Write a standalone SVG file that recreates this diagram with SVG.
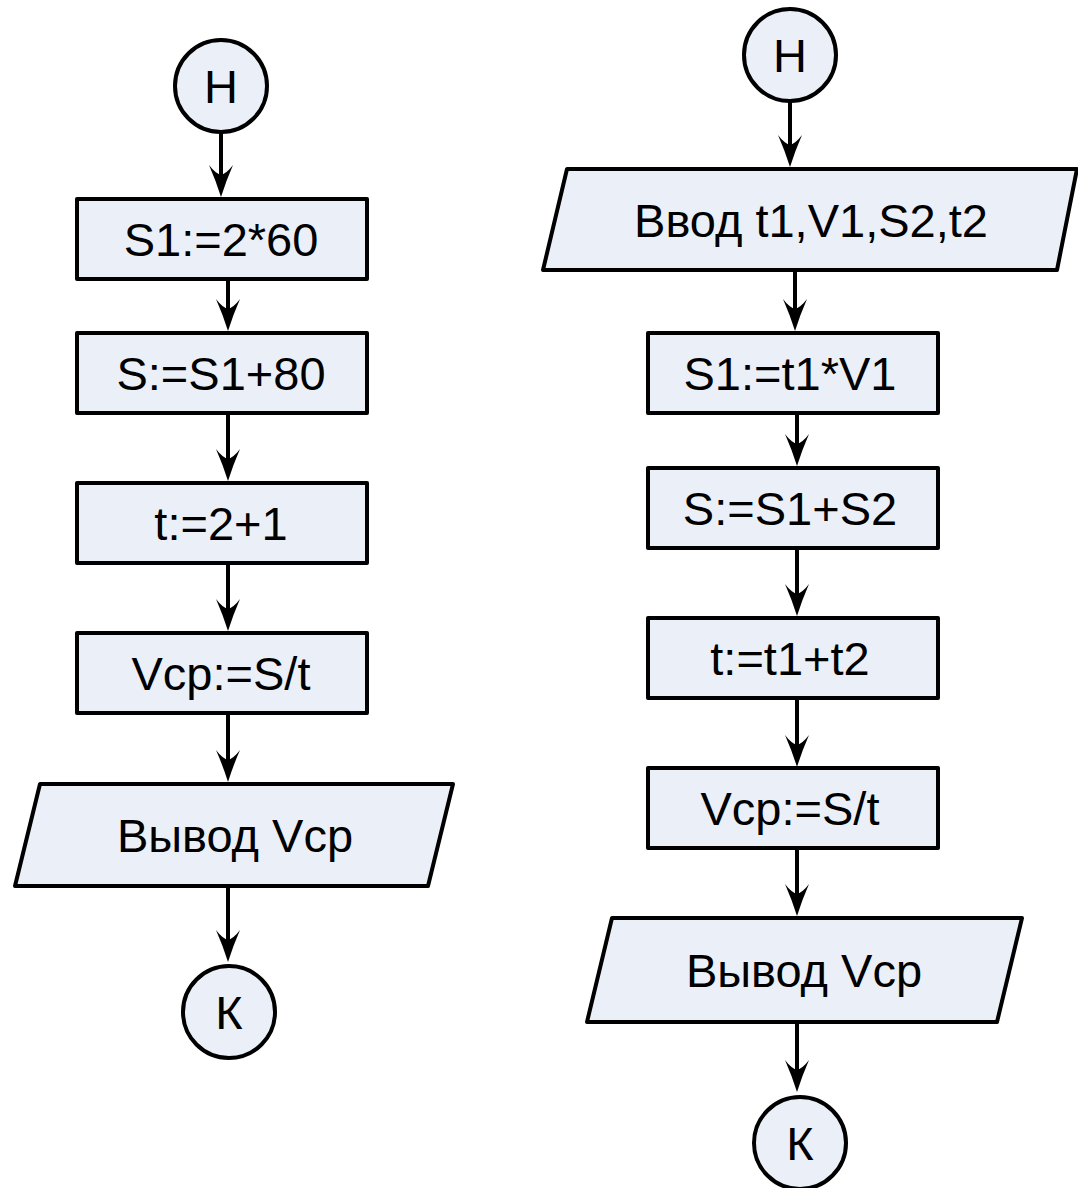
<svg xmlns="http://www.w3.org/2000/svg" width="1078" height="1188" viewBox="0 0 1078 1188">
<style>
.shape{fill:#EBF0F8;stroke:#000;stroke-width:4;stroke-linejoin:round}
.lbl{font-family:"Liberation Sans",Arial,sans-serif;font-size:47px;fill:#000;text-anchor:middle}
.conn{stroke:#000;stroke-width:4;fill:none}
</style>
<defs>
<marker id="arr" markerUnits="userSpaceOnUse" viewBox="-34 -14 36 28" markerWidth="36" markerHeight="28" refX="-20" refY="0" orient="auto">
<path d="M0,0 Q-16,-5 -32,-12 Q-24,-6 -22,0 Q-24,6 -32,12 Q-16,5 0,0 Z" fill="#000"/>
</marker>
</defs>
<rect width="1078" height="1188" fill="#fff"/>
<g id="connectors">
<line class="conn" x1="221" y1="132" x2="221" y2="177" marker-end="url(#arr)"/>
<line class="conn" x1="228" y1="279" x2="228" y2="311" marker-end="url(#arr)"/>
<line class="conn" x1="228" y1="413" x2="228" y2="461" marker-end="url(#arr)"/>
<line class="conn" x1="228" y1="563" x2="228" y2="611" marker-end="url(#arr)"/>
<line class="conn" x1="228" y1="713" x2="228" y2="762" marker-end="url(#arr)"/>
<line class="conn" x1="228" y1="886" x2="228" y2="942" marker-end="url(#arr)"/>
<line class="conn" x1="790" y1="101" x2="790" y2="147" marker-end="url(#arr)"/>
<line class="conn" x1="795" y1="270" x2="795" y2="311" marker-end="url(#arr)"/>
<line class="conn" x1="797" y1="413" x2="797" y2="446" marker-end="url(#arr)"/>
<line class="conn" x1="797" y1="548" x2="797" y2="596" marker-end="url(#arr)"/>
<line class="conn" x1="797" y1="698" x2="797" y2="747" marker-end="url(#arr)"/>
<line class="conn" x1="797" y1="848" x2="797" y2="896" marker-end="url(#arr)"/>
<line class="conn" x1="797" y1="1022" x2="797" y2="1072" marker-end="url(#arr)"/>
</g>
<g id="L_start"><circle class="shape" cx="221" cy="86" r="46"/><text class="lbl" x="221" y="103">Н</text></g>
<g id="L_s1"><rect class="shape" x="77" y="199" width="290" height="80"/><text class="lbl" x="221" y="256">S1:=2*60</text></g>
<g id="L_s"><rect class="shape" x="77" y="333" width="290" height="80"/><text class="lbl" x="221" y="390">S:=S1+80</text></g>
<g id="L_t"><rect class="shape" x="77" y="483" width="290" height="80"/><text class="lbl" x="221" y="540">t:=2+1</text></g>
<g id="L_v"><rect class="shape" x="77" y="633" width="290" height="80"/><text class="lbl" x="221" y="690">Vcp:=S/t</text></g>
<g id="L_out"><polygon class="shape" points="40,784 453,784 428,886 15,886"/><text class="lbl" x="235" y="852">Вывод Vcp</text></g>
<g id="L_end"><circle class="shape" cx="229" cy="1012" r="46"/><text class="lbl" x="229" y="1029">К</text></g>
<g id="R_start"><circle class="shape" cx="790" cy="55" r="46"/><text class="lbl" x="790" y="72">Н</text></g>
<g id="R_in"><polygon class="shape" points="567,169 1077,169 1057,270 543,270"/><text class="lbl" x="811" y="237">Ввод t1,V1,S2,t2</text></g>
<g id="R_s1"><rect class="shape" x="648" y="333" width="290" height="80"/><text class="lbl" x="790" y="390">S1:=t1*V1</text></g>
<g id="R_s"><rect class="shape" x="648" y="468" width="290" height="80"/><text class="lbl" x="790" y="525">S:=S1+S2</text></g>
<g id="R_t"><rect class="shape" x="648" y="618" width="290" height="80"/><text class="lbl" x="790" y="675">t:=t1+t2</text></g>
<g id="R_v"><rect class="shape" x="648" y="768" width="290" height="80"/><text class="lbl" x="790" y="825">Vcp:=S/t</text></g>
<g id="R_out"><polygon class="shape" points="612,918 1022,918 997,1022 587,1022"/><text class="lbl" x="804" y="987">Вывод Vcp</text></g>
<g id="R_end"><circle class="shape" cx="800" cy="1143" r="46"/><text class="lbl" x="800" y="1160">К</text></g>
</svg>
